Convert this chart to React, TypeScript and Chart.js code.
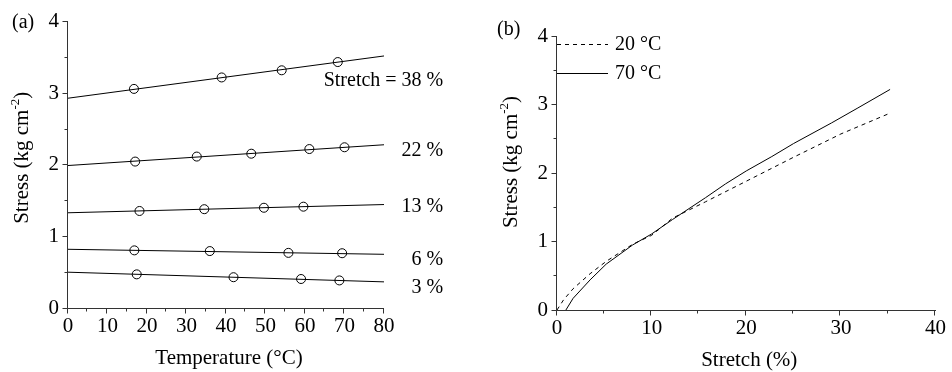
import React, { useEffect, useRef } from 'react';
import { Chart, registerables } from 'chart.js';

Chart.register(...registerables);

const FONT = "'Liberation Serif', 'Times New Roman', Times, serif";

// ---------- Panel (a): stress vs temperature ----------
const tempTicks = [0, 10, 20, 30, 40, 50, 60, 70, 80];
const stressTicksA = [0, 1, 2, 3, 4];
const stretchLabels = ['Stretch = 38 %', '22 %', '13 %', '6 %', '3 %'];
const fitStart = [2.93, 1.99, 1.33, 0.82, 0.5]; // fitted stress at 0 °C
const fitEnd = [3.52, 2.28, 1.445, 0.75, 0.365]; // fitted stress at 80 °C
const temps38 = [16.7, 38.9, 54.1, 68.3];
const stress38 = [3.06, 3.22, 3.32, 3.435];
const temps22 = [17.0, 32.6, 46.4, 61.1, 70.0];
const stress22 = [2.045, 2.115, 2.155, 2.22, 2.245];
const temps13 = [18.1, 34.5, 49.6, 59.6];
const stress13 = [1.355, 1.38, 1.4, 1.415];
const temps6 = [16.8, 35.9, 55.8, 69.4];
const stress6 = [0.805, 0.795, 0.77, 0.765];
const temps3 = [17.4, 41.9, 59.0, 68.7];
const stress3 = [0.47, 0.43, 0.405, 0.385];
const labelStressAnchor = [3.18, 2.19, 1.41, 0.67, 0.28];
const labelTempAnchor = 95;

// ---------- Panel (b): stress vs stretch ----------
const stretchTicks = [0, 10, 20, 30, 40];
const stressTicksB = [0, 1, 2, 3, 4];
const seriesNamesB = ['20 °C', '70 °C'];
const stretch20 = [0, 0.7, 1.7, 3.5, 5.2, 8.0, 10.0, 12.2, 15.7, 20.0, 25.0, 30.0, 35.3];
const stress20 = [0, 0.15, 0.31, 0.53, 0.71, 0.96, 1.09, 1.34, 1.58, 1.88, 2.23, 2.57, 2.88];
const stretch70 = [0.94, 1.7, 3.5, 5.2, 8.0, 10.0, 12.2, 15.7, 17.8, 20.0, 22.7, 25.0, 29.0, 31.8, 35.2];
const stress70 = [0, 0.17, 0.44, 0.67, 0.95, 1.11, 1.32, 1.64, 1.84, 2.03, 2.24, 2.43, 2.73, 2.95, 3.22];

const AXIS_COLOR = '#333';
const pts = (xs: number[], ys: number[]) => xs.map((x, i) => ({ x, y: ys[i] }));

type Decor = {
  panel: string;
  panelX: number;
  panelBaseline: number;
  xTitle: string;
  xMinorStep: number;
  xMajorStep: number;
  yMinorStep: number;
  yMajorStep: number;
  yTitleDy: number;
  extra?: (chart: any, ctx: CanvasRenderingContext2D) => void;
};

function decorPlugin(d: Decor) {
  return {
    id: 'decor',
    afterDraw(chart: any) {
      const ctx: CanvasRenderingContext2D = chart.ctx;
      const xs = chart.scales.x;
      const ys = chart.scales.y;
      const { left, right, top, bottom } = chart.chartArea;
      ctx.save();
      ctx.strokeStyle = AXIS_COLOR;
      ctx.lineWidth = 1;
      const ax = Math.floor(left) - 0.5;
      const ay = Math.floor(bottom) + 0.5;
      ctx.beginPath();
      ctx.moveTo(ax, Math.floor(top));
      ctx.lineTo(ax, ay);
      ctx.lineTo(Math.ceil(right), ay);
      ctx.stroke();
      // x ticks
      ctx.beginPath();
      for (let v = xs.min; v <= xs.max + 1e-9; v += d.xMinorStep) {
        const major = Math.abs(v / d.xMajorStep - Math.round(v / d.xMajorStep)) < 1e-6;
        const px = Math.floor(xs.getPixelForValue(v)) - 0.5;
        ctx.moveTo(px, ay);
        ctx.lineTo(px, ay + (major ? 5 : 3));
      }
      // y ticks
      for (let v = ys.min; v <= ys.max + 1e-9; v += d.yMinorStep) {
        const major = Math.abs(v / d.yMajorStep - Math.round(v / d.yMajorStep)) < 1e-6;
        const py = Math.floor(ys.getPixelForValue(v)) + 0.5;
        ctx.moveTo(ax, py);
        ctx.lineTo(ax - (major ? 5 : 3), py);
      }
      ctx.stroke();

      ctx.fillStyle = '#000';
      // x title
      ctx.font = `21px ${FONT}`;
      ctx.textAlign = 'center';
      ctx.textBaseline = 'alphabetic';
      ctx.fillText(d.xTitle, (left + right) / 2 + 3, bottom + 56);

      // y title with superscript
      ctx.save();
      const cx = left - 40;
      const cy = (top + bottom) / 2 + d.yTitleDy;
      ctx.translate(cx, cy);
      ctx.rotate(-Math.PI / 2);
      ctx.textAlign = 'left';
      const p1 = 'Stress (kg cm';
      const sup = '-2';
      const p2 = ')';
      ctx.font = `21px ${FONT}`;
      const w1 = ctx.measureText(p1).width;
      const w3 = ctx.measureText(p2).width;
      ctx.font = `13px ${FONT}`;
      const w2 = ctx.measureText(sup).width;
      const total = w1 + w2 + w3;
      let sx = -total / 2;
      ctx.font = `21px ${FONT}`;
      ctx.fillText(p1, sx, 0);
      sx += w1;
      ctx.font = `13px ${FONT}`;
      ctx.fillText(sup, sx, -9);
      sx += w2;
      ctx.font = `21px ${FONT}`;
      ctx.fillText(p2, sx, 0);
      ctx.restore();

      // panel label
      ctx.font = `20px ${FONT}`;
      ctx.textAlign = 'left';
      ctx.fillText(d.panel, d.panelX, d.panelBaseline);

      if (d.extra) d.extra(chart, ctx);
      ctx.restore();
    },
  };
}

const tickFont = { family: FONT, size: 21 };

function baseScales(xMin: number, xMax: number, xStep: number, yMax: number, yAxisWidth: number, xAxisHeight: number) {
  return {
    x: {
      type: 'linear',
      min: xMin,
      max: xMax,
      afterBuildTicks: (s: any) => {
        const t = [];
        for (let v = xMin; v <= xMax; v += xStep) t.push({ value: v });
        s.ticks = t;
      },
      ticks: { padding: 6, color: '#000', font: tickFont, autoSkip: false, maxRotation: 0 },
      grid: { display: false, drawTicks: false },
      border: { display: false },
      afterFit: (s: any) => {
        s.height = xAxisHeight;
      },
    },
    y: {
      type: 'linear',
      min: 0,
      max: yMax,
      ticks: { stepSize: 1, padding: 9, color: '#000', font: tickFont },
      grid: { display: false, drawTicks: false },
      border: { display: false },
      afterFit: (s: any) => {
        s.width = yAxisWidth;
      },
    },
  };
}

function configA() {
  const sets = [
    pts(temps38, stress38),
    pts(temps22, stress22),
    pts(temps13, stress13),
    pts(temps6, stress6),
    pts(temps3, stress3),
  ];
  const datasets: any[] = [];
  sets.forEach((s, i) => {
    datasets.push({
      data: [
        { x: tempTicks[0], y: fitStart[i] },
        { x: tempTicks[tempTicks.length - 1], y: fitEnd[i] },
      ],
      showLine: true,
      borderColor: '#000',
      borderWidth: 1,
      pointRadius: 0,
    });
    datasets.push({
      data: s,
      showLine: false,
      pointStyle: 'circle',
      pointRadius: 4.5,
      pointBorderColor: '#000',
      pointBorderWidth: 1,
      pointBackgroundColor: 'rgba(0,0,0,0)',
    });
  });
  return {
    type: 'scatter',
    data: { datasets },
    options: {
      responsive: false,
      devicePixelRatio: 1,
      animation: false,
      events: [],
      layout: { padding: { left: 0, right: 86, top: 21, bottom: 0 } },
      plugins: { legend: { display: false }, tooltip: { enabled: false } },
      scales: baseScales(0, tempTicks[tempTicks.length - 1], 10, stressTicksA[stressTicksA.length - 1], 68, 64),
    },
    plugins: [
      decorPlugin({
        panel: '(a)',
        panelX: 12,
        panelBaseline: 28,
        xTitle: 'Temperature (°C)',
        xMinorStep: 5,
        xMajorStep: 10,
        yMinorStep: 0.5,
        yMajorStep: 1,
        yTitleDy: -7,
        extra: (chart, ctx) => {
          const xs = chart.scales.x;
          const ys = chart.scales.y;
          ctx.font = `20px ${FONT}`;
          ctx.textAlign = 'right';
          ctx.textBaseline = 'middle';
          ctx.fillStyle = '#000';
          stretchLabels.forEach((t, i) => {
            ctx.fillText(t, xs.getPixelForValue(labelTempAnchor), ys.getPixelForValue(labelStressAnchor[i]));
          });
        },
      }),
    ],
  };
}

function configB() {
  return {
    type: 'scatter',
    data: {
      datasets: [
        {
          label: seriesNamesB[0],
          data: pts(stretch20, stress20),
          showLine: true,
          borderColor: '#000',
          borderWidth: 1,
          borderDash: [4, 4],
          pointRadius: 0,
        },
        {
          label: seriesNamesB[1],
          data: pts(stretch70, stress70),
          showLine: true,
          borderColor: '#000',
          borderWidth: 1,
          pointRadius: 0,
        },
      ],
    },
    options: {
      responsive: false,
      devicePixelRatio: 1,
      animation: false,
      events: [],
      layout: { padding: { left: 0, right: 14, top: 36, bottom: 0 } },
      plugins: { legend: { display: false }, tooltip: { enabled: false } },
      scales: baseScales(0, stretchTicks[stretchTicks.length - 1], 10, stressTicksB[stressTicksB.length - 1], 87, 62),
    },
    plugins: [
      decorPlugin({
        panel: '(b)',
        panelX: 27,
        panelBaseline: 35,
        xTitle: 'Stretch (%)',
        xMinorStep: 5,
        xMajorStep: 10,
        yMinorStep: 0.5,
        yMajorStep: 1,
        yTitleDy: -11,
        extra: (chart, ctx) => {
          const { left, top } = chart.chartArea;
          const rows = [
            { y: top + 7.5, dash: [4, 4] },
            { y: top + 36.5, dash: [] as number[] },
          ];
          rows.forEach((r, i) => {
            ctx.save();
            ctx.strokeStyle = '#000';
            ctx.lineWidth = 1;
            ctx.setLineDash(r.dash);
            ctx.beginPath();
            ctx.moveTo(left, Math.round(r.y) + 0.5);
            ctx.lineTo(left + 51, Math.round(r.y) + 0.5);
            ctx.stroke();
            ctx.restore();
            ctx.font = `20px ${FONT}`;
            ctx.textAlign = 'left';
            ctx.textBaseline = 'middle';
            ctx.fillStyle = '#000';
            ctx.fillText(seriesNamesB[i], left + 58, r.y + 1);
          });
        },
      }),
    ],
  };
}

function Panel({ make, left, width }: { make: () => any; left: number; width: number }) {
  const ref = useRef<HTMLCanvasElement | null>(null);
  useEffect(() => {
    if (!ref.current) return;
    const chart = new Chart(ref.current, make());
    return () => chart.destroy();
  }, []);
  return (
    <canvas
      ref={ref}
      width={width}
      height={372}
      style={{ position: 'absolute', left, top: 0, width, height: 372, display: 'block' }}
    />
  );
}

export default function App() {
  return (
    <div style={{ position: 'absolute', left: 0, top: 0, width: 952, height: 372, background: '#fff' }}>
      <Panel make={configA} left={0} width={470} />
      <Panel make={configB} left={470} width={482} />
    </div>
  );
}
